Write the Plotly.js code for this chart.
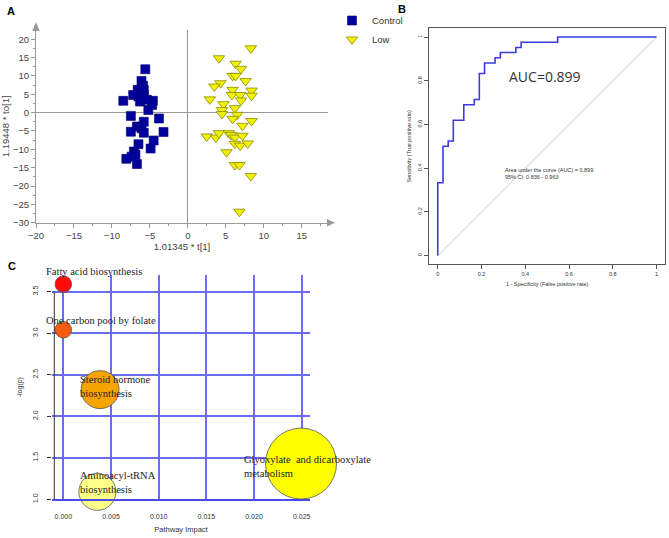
<!DOCTYPE html>
<html><head><meta charset="utf-8">
<script src="https://cdn.plot.ly/plotly-3.0.1.min.js"></script>
<style>html,body{margin:0;padding:0;background:#fff}</style>
</head><body><div id="chart" style="width:669px;height:538px"></div>
<script>
// ---------- Panel A: OPLS-DA score plot ----------
const controlX = [-5.6,-6.1,-5.9,-6.6,-5.8,-7.2,-6.5,-5.8,-8.5,-6.3,-5.4,-4.6,-5.2,-4.7,-7.5,-3.8,-5.8,-6.7,-6.1,-7.5,-5.8,-3.2,-4.5,-6.5,-7.1,-4.9,-6.9,-8.1,-6.7,-7.4];
const controlY = [11.8,8.6,7.3,6.2,6.2,4.8,4.4,4.8,3.2,3.0,3.5,3.2,0.7,2.1,-0.9,-1.6,-2.5,-3.8,-4.3,-5.2,-5.5,-5.3,-7.6,-8.6,-10.6,-9.8,-11.5,-12.6,-14.0,-12.0];
const lowX = [8.3,4.1,6.3,7.0,5.9,6.3,7.6,4.3,3.5,5.9,8.4,5.8,6.9,8.4,2.9,7.0,4.7,6.2,4.5,4.5,6.5,5.9,8.4,7.2,2.5,3.7,4.1,5.4,5.7,6.2,7.2,6.2,6.9,7.9,5.1,6.2,6.8,8.3,6.8];
const lowY = [17.5,14.8,13.3,11.9,10.0,10.0,8.6,8.0,7.1,6.2,6.0,4.8,4.8,4.6,3.6,3.3,2.3,1.2,0.7,-0.4,-0.6,-1.7,-2.3,-3.6,-6.5,-6.8,-5.6,-5.6,-6.1,-6.8,-6.3,-8.5,-9.0,-8.4,-10.8,-14.3,-14.3,-17.3,-27.0];
const groupNames = ["Control", "Low"];

// ---------- Panel B: ROC curve ----------
const rocFPR = [0,0,0.024,0.048,0.071,0.119,0.167,0.190,0.214,0.262,0.286,0.357,0.381,0.548,1];
const rocTPR = [0,0.333,0.500,0.524,0.619,0.690,0.714,0.833,0.881,0.905,0.929,0.952,0.976,1,1];
const chanceX = [0,1];
const chanceY = [0,1];
const aucLabel = "AUC=0.899";
const aucDetail = "Area under the curve (AUC) = 0.899<br>95% CI: 0.836 - 0.963";

// ---------- Panel C: pathway analysis ----------
const pathwayNames = ["Fatty acid biosynthesis","One carbon pool by folate","Steroid hormone biosynthesis","Aminoacyl-tRNA biosynthesis","Glyoxylate and dicarboxylate metabolism"];
const pathwayLabels = ["Fatty acid biosynthesis","One carbon pool by folate","Steroid hormone<br>biosynthesis","Aminoacyl-tRNA<br>biosynthesis","Glyoxylate  and dicarboxylate<br>metabolism"];
const pathwayImpact = [0.0000,0.0000,0.00385,0.00357,0.02493];
const pathwayNegLogP = [3.59,3.04,2.32,1.09,1.43];
const pathwayBubble = [16.5,16.5,38,37,71];

// styles
const bubbleColors = ["#FF0A0A","#F85A10","#F7A400","#FFFF8A","#FFFF00"];
const labelPixel = [[44,271.5],[44,320],[78,386.5],[78,482],[242,466.5]];
const W = 669, H = 538;
const px = v => v / W, py = v => 1 - v / H;
const sans = "Liberation Sans, Arial, sans-serif";
const serif = "Liberation Serif, Times New Roman, serif";

const traces = [
  {type:"scatter", mode:"markers", name:groupNames[0], x:controlX, y:controlY, xaxis:"x", yaxis:"y",
   marker:{symbol:"square", size:9, color:"#00009C", line:{color:"#000070", width:0.6}}},
  {type:"scatter", mode:"markers", name:groupNames[1], x:lowX, y:lowY, xaxis:"x", yaxis:"y",
   marker:{symbol:"triangle-down", size:10, color:"#F2F200", line:{color:"#8A8A00", width:0.8}}},
  {type:"scatter", mode:"lines", x:chanceX, y:chanceY, xaxis:"x2", yaxis:"y2", showlegend:false,
   line:{color:"#C8C8C8", width:1}},
  {type:"scatter", mode:"lines", x:rocFPR, y:rocTPR, xaxis:"x2", yaxis:"y2", showlegend:false,
   line:{color:"#3B3BE0", width:1.6, shape:"hv"}},
  {type:"scatter", mode:"markers", x:pathwayImpact, y:pathwayNegLogP, text:pathwayNames, xaxis:"x3", yaxis:"y3",
   showlegend:false, cliponaxis:false,
   marker:{size:pathwayBubble, color:bubbleColors, opacity:1, line:{color:"#555", width:0.8}}}
];

const annotations = [
  {text:"<b>A</b>", xref:"paper", yref:"paper", x:px(5), y:py(11), xanchor:"left", yanchor:"middle", showarrow:false, font:{family:sans, size:11, color:"#000"}},
  {text:"<b>B</b>", xref:"paper", yref:"paper", x:px(396), y:py(9), xanchor:"left", yanchor:"middle", showarrow:false, font:{family:sans, size:11, color:"#000"}},
  {text:"<b>C</b>", xref:"paper", yref:"paper", x:px(6), y:py(266), xanchor:"left", yanchor:"middle", showarrow:false, font:{family:sans, size:11, color:"#000"}},
  {text:aucLabel, xref:"x2", yref:"y2", x:0.316, y:0.82, xanchor:"left", yanchor:"middle", showarrow:false, font:{family:"Open Sans, sans-serif", size:14, color:"#333"}},
  {text:aucDetail, xref:"x2", yref:"y2", x:0.30, y:0.374, xanchor:"left", yanchor:"middle", align:"left", showarrow:false, font:{family:sans, size:5.5, color:"#333"}}
];
pathwayLabels.forEach((lab, i) => {
  annotations.push({text:lab, xref:"paper", yref:"paper", x:px(labelPixel[i][0]), y:py(labelPixel[i][1]), xanchor:"left", yanchor:"middle", align:"left",
    showarrow:false, font:{family:serif, size:10.5, color:"#222"}});
});

const gridBlue = "#6C6CF0";
const shapes = [
  // arrow heads of panel A axes
  {type:"path", xref:"paper", yref:"paper", path:`M ${px(327)} ${py(219)} L ${px(335)} ${py(222.7)} L ${px(327)} ${py(226.4)} Z`, fillcolor:"#999", line:{width:0}},
  {type:"path", xref:"paper", yref:"paper", path:`M ${px(32.3)} ${py(31)} L ${px(36)} ${py(22)} L ${px(39.7)} ${py(31)} Z`, fillcolor:"#999", line:{width:0}},
  // panel C left axis line
  {type:"line", xref:"paper", yref:"y3", x0:px(54.3), x1:px(54.3), y0:1.0, y1:3.5, line:{color:"#333", width:1}}
];

const layout = {
  width:W, height:H, margin:{l:0,r:0,t:0,b:0}, paper_bgcolor:"#fff", plot_bgcolor:"rgba(0,0,0,0)",
  showlegend:true,
  legend:{x:px(332), y:py(6), xanchor:"left", yanchor:"top", font:{family:sans, size:9.5, color:"#333"}, bgcolor:"rgba(0,0,0,0)", tracegroupgap:0, itemwidth:30},
  xaxis:{domain:[px(36), px(328)], range:[-20, 18.47], anchor:"y", showline:true, linecolor:"#999", linewidth:1,
    ticks:"outside", ticklen:4, tickcolor:"#999", dtick:5, tick0:0, showgrid:false,
    minor:{dtick:2.5, tick0:0, ticks:"outside", ticklen:2, tickcolor:"#999"},
    zeroline:true, zerolinecolor:"#999", zerolinewidth:1, tickfont:{family:sans, size:9.5, color:"#444"},
    title:{text:"1.01345 * t[1]", font:{family:sans, size:9.5, color:"#444"}, standoff:3}},
  yaxis:{domain:[py(222.7), py(30)], range:[-30, 22.5], anchor:"x", showline:true, linecolor:"#999", linewidth:1,
    ticks:"outside", ticklen:4, tickcolor:"#999", dtick:5, tick0:0, showgrid:false,
    minor:{dtick:2.5, tick0:0, ticks:"outside", ticklen:2, tickcolor:"#999"},
    zeroline:true, zerolinecolor:"#999", zerolinewidth:1, tickfont:{family:sans, size:9.5, color:"#444"},
    title:{text:"1.19448 * to[1]", font:{family:sans, size:9.5, color:"#444"}, standoff:2}},
  xaxis2:{domain:[px(429), px(665.3)], range:[-0.04, 1.04], anchor:"y2", showline:true, mirror:true, linecolor:"#555", linewidth:1,
    ticks:"outside", ticklen:4, tickcolor:"#555", tickvals:[0,0.2,0.4,0.6,0.8,1], ticktext:["0","0.2","0.4","0.6","0.8","1"],
    showgrid:false, zeroline:false, tickfont:{family:sans, size:5.5, color:"#333"},
    title:{text:"1 - Specificity (False positive rate)", font:{family:sans, size:5.5, color:"#333"}, standoff:6}},
  yaxis2:{domain:[py(264.3), py(28.3)], range:[-0.04, 1.04], anchor:"x2", showline:true, mirror:true, linecolor:"#555", linewidth:1,
    ticks:"outside", ticklen:4, tickcolor:"#555", tickvals:[0,0.2,0.4,0.6,0.8,1], ticktext:["0","0.2","0.4","0.6","0.8","1"], tickangle:-90,
    showgrid:false, zeroline:false, tickfont:{family:sans, size:5.5, color:"#333"},
    title:{text:"Sensitivity (True positive rate)", font:{family:sans, size:5.5, color:"#333"}, standoff:4}},
  xaxis3:{domain:[px(52), px(310)], range:[-0.00119, 0.02587], anchor:"y3", showline:true, linecolor:"#4A4AE6", linewidth:2,
    ticks:"", tickvals:[0,0.005,0.01,0.015,0.02,0.025], tickformat:".3f", ticklabelstandoff:9,
    showgrid:true, gridcolor:gridBlue, gridwidth:2, zeroline:false, tickfont:{family:sans, size:7, color:"#333"},
    title:{text:"Pathway Impact", font:{family:sans, size:7.5, color:"#333"}, standoff:8}},
  yaxis3:{domain:[py(499.3), py(275)], range:[1.0, 3.70], anchor:"x3", showline:false,
    ticks:"outside", ticklen:4, tickcolor:"#333", tickvals:[1,1.5,2,2.5,3,3.5], tickformat:".1f", tickangle:-90, ticklabelstandoff:6,
    showgrid:true, gridcolor:gridBlue, gridwidth:2, zeroline:false, tickfont:{family:sans, size:7, color:"#333"},
    title:{text:"-log(p)", font:{family:sans, size:7, color:"#333"}, standoff:8}},
  annotations, shapes
};

Plotly.newPlot("chart", traces, layout, {staticPlot:true, displayModeBar:false});
</script></body></html>
